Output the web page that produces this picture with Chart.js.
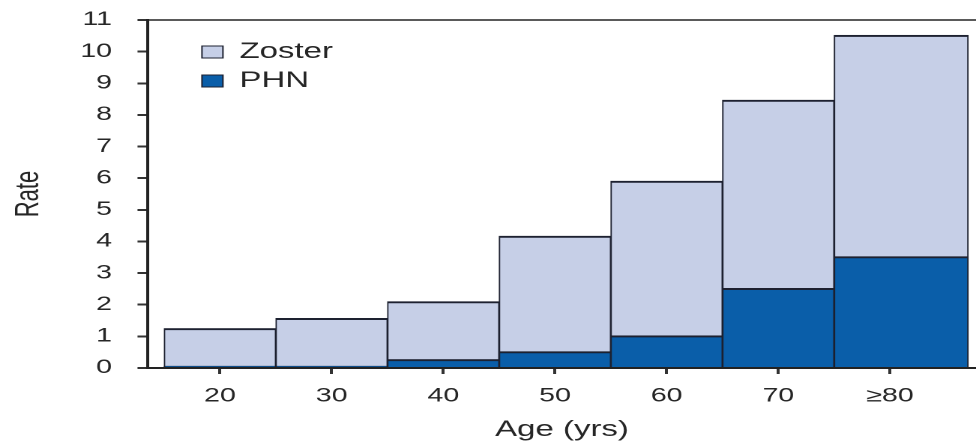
<!DOCTYPE html>
<html>
<head>
<meta charset="utf-8">
<script src="https://cdn.jsdelivr.net/npm/chart.js@4.4.0/dist/chart.umd.min.js"></script>
<style>
  html, body { margin: 0; padding: 0; background: #fff; }
</style>
</head>
<body>
<!-- the source figure is stretched sideways, so the canvas is drawn narrow and shown wide -->
<canvas id="rateChart" width="651" height="443" style="display:block;width:976px;height:443px"></canvas>
<script>
const ageGroups = [20, 30, 40, 50, 60, 70, 80];
const tickLabels = ['20', '30', '40', '50', '60', '70', '\u226580'];
const zosterRate = [1.25, 1.57, 2.1, 4.17, 5.91, 8.47, 10.52];
const phnRate = [0.06, 0.06, 0.27, 0.52, 1.02, 2.52, 3.52];
const lastBinEnd = 87; // the >=80 group runs wider than the others

const sans = "'Liberation Sans', Arial, sans-serif";
const textColor = '#262626';
const edgeColor = '#1d2130';

// flex bars take their width from neighbouring points, so a blank point
// past the end sets where the last (wider) bar stops
function toPoints(values) {
    const pts = ageGroups.map((a, i) => ({ x: a, y: values[i] }));
    const last = ageGroups[ageGroups.length - 1];
    pts.push({ x: 2 * lastBinEnd - last, y: null });
    return pts;
}

// put the legend inside the plot, near the top-left corner
const legendInside = {
    id: 'legendInside',
    afterLayout(chart) {
        const lg = chart.legend;
        const area = chart.chartArea;
        const w = lg.width, h = lg.height;
        lg.left = area.left + 29;
        lg.top = area.top + 14;
        lg.right = lg.left + w;
        lg.bottom = lg.top + h;
    }
};

new Chart(document.getElementById('rateChart'), {
    type: 'bar',
    data: {
        datasets: [
            {
                label: 'Zoster',
                data: toPoints(zosterRate),
                backgroundColor: '#c6cfe7',
                borderColor: edgeColor,
                borderWidth: { top: 2, left: 1, right: 1, bottom: 0 },
                stack: 'age',
                order: 2
            },
            {
                label: 'PHN',
                data: toPoints(phnRate),
                backgroundColor: '#0a5ea9',
                borderColor: edgeColor,
                borderWidth: { top: 2, left: 1, right: 1, bottom: 0 },
                stack: 'age',
                order: 1
            }
        ]
    },
    options: {
        responsive: false,
        devicePixelRatio: 2,
        animation: false,
        layout: { padding: { left: 0, top: 20, right: 0, bottom: 0 } },
        datasets: {
            bar: {
                barThickness: 'flex',
                categoryPercentage: 1,
                barPercentage: 1
            }
        },
        plugins: {
            tooltip: { enabled: false },
            legend: {
                position: 'chartArea',
                align: 'start',
                labels: {
                    boxWidth: 14,
                    boxHeight: 12,
                    padding: 7,
                    color: textColor,
                    font: { family: sans, size: 22 },
                    sort: (a, b) => a.datasetIndex - b.datasetIndex
                }
            }
        },
        scales: {
            x: {
                type: 'linear',
                min: 13.55,
                max: 87.7,
                offset: false,
                afterBuildTicks: (scale) => {
                    scale.ticks = ageGroups.map(v => ({ value: v }));
                },
                afterFit: (scale) => {
                    scale.height = 75;
                },
                ticks: {
                    autoSkip: false,
                    maxRotation: 0,
                    padding: 11,
                    color: textColor,
                    font: { family: sans, size: 19 },
                    callback: (value) => tickLabels[ageGroups.indexOf(value)]
                },
                grid: {
                    offset: false,
                    drawOnChartArea: false,
                    tickLength: 6,
                    lineWidth: 2,
                    color: '#333'
                },
                border: { color: '#222', width: 2 },
                title: {
                    display: true,
                    text: 'Age (yrs)',
                    color: textColor,
                    font: { family: sans, size: 22 },
                    padding: { top: 9, bottom: 0 }
                }
            },
            y: {
                stacked: false,
                min: 0,
                max: 11,
                afterFit: (scale) => {
                    scale.width = 98.7;
                    scale.paddingTop = 0;
                    scale.paddingBottom = 0;
                },
                ticks: {
                    stepSize: 1,
                    padding: 17,
                    color: textColor,
                    font: { family: sans, size: 19 }
                },
                grid: {
                    tickLength: 7,
                    lineWidth: 2,
                    tickColor: '#333',
                    color: (c) => (c.tick && c.tick.value === 11 ? '#5a5a5a' : 'rgba(0,0,0,0)')
                },
                border: { color: '#222', width: 2 },
                title: {
                    display: true,
                    text: 'Rate',
                    color: textColor,
                    font: { family: sans, size: 22 },
                    padding: { top: 6, bottom: 0 }
                }
            }
        }
    },
    plugins: [legendInside]
});
</script>
</body>
</html>
